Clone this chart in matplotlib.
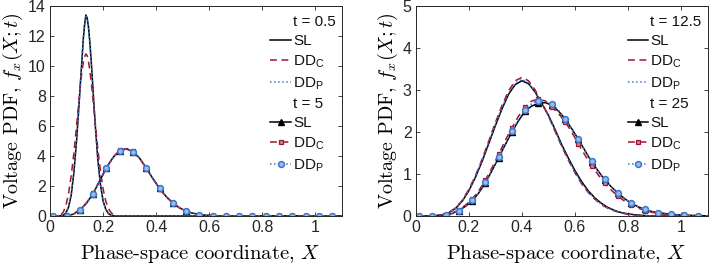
import matplotlib
matplotlib.use("Agg")
import matplotlib.pyplot as plt
from matplotlib.lines import Line2D

plt.rcParams['font.family'] = ['Liberation Sans', 'DejaVu Sans']
plt.rcParams['axes.unicode_minus'] = False

# ---------------- data ----------------
# t = 0.5 (left panel, narrow peak)
x_05 = [0.0, 0.03, 0.04, 0.05, 0.06, 0.07, 0.08, 0.09, 0.10, 0.11, 0.115, 0.12, 0.125,
        0.13, 0.135, 0.14, 0.145, 0.15, 0.155, 0.16, 0.17, 0.18, 0.19, 0.20, 0.21, 0.22,
        0.23, 0.24, 0.25, 0.26, 0.27, 1.1]
sl_05 = [0, 0, 0, 0.05, 0.2, 0.6, 1.4, 2.9, 5.0, 7.6, 9.0, 10.3, 11.7, 12.7, 13.4, 13.2,
         12.6, 11.6, 10.4, 9.0, 6.2, 3.8, 2.1, 1.0, 0.45, 0.17, 0.05, 0.01, 0, 0, 0, 0]
ddc_05 = [0, 0, 0.05, 0.25, 0.7, 1.5, 2.7, 4.2, 6.0, 7.9, 8.8, 9.6, 10.2, 10.6, 10.8, 10.7,
          10.3, 9.7, 9.0, 8.1, 6.3, 4.5, 3.0, 1.8, 1.0, 0.5, 0.22, 0.08, 0.02, 0, 0, 0]
ddp_05 = [0, 0, 0, 0.05, 0.2, 0.62, 1.45, 2.95, 5.05, 7.6, 9.0, 10.3, 11.7, 12.7, 13.3, 13.1,
          12.5, 11.5, 10.3, 8.9, 6.1, 3.75, 2.05, 0.98, 0.44, 0.16, 0.05, 0.01, 0, 0, 0, 0]

# shared grid for marker curves (t = 5 and t = 25)
x_m = [0.0125, 0.0375, 0.0625, 0.0875, 0.1125, 0.1375, 0.1625, 0.1875, 0.2125, 0.2375,
       0.2625, 0.2875, 0.3125, 0.3375, 0.3625, 0.3875, 0.4125, 0.4375, 0.4625, 0.4875,
       0.5125, 0.5375, 0.5625, 0.5875, 0.6125, 0.6375, 0.6625, 0.6875, 0.7125, 0.7375,
       0.7625, 0.7875, 0.8125, 0.8375, 0.8625, 0.8875, 0.9125, 0.9375, 0.9625, 0.9875,
       1.0125, 1.0375, 1.0625, 1.0875]
sl_5 = [0, 0, 0.02, 0.12, 0.4, 0.85, 1.5, 2.35, 3.2, 3.9, 4.35, 4.47, 4.3, 3.85, 3.2, 2.5,
        1.85, 1.3, 0.88, 0.55, 0.33, 0.19, 0.1, 0.05, 0.03, 0.01,
        0, 0, 0, 0, 0, 0, 0, 0, 0, 0, 0, 0, 0, 0, 0, 0, 0, 0]
ddc_5 = [0, 0, 0.02, 0.13, 0.42, 0.88, 1.52, 2.38, 3.22, 3.93, 4.38, 4.5, 4.32, 3.86, 3.2,
         2.48, 1.83, 1.28, 0.86, 0.54, 0.32, 0.18, 0.1, 0.05, 0.02, 0.01,
         0, 0, 0, 0, 0, 0, 0, 0, 0, 0, 0, 0, 0, 0, 0, 0, 0, 0]
ddp_5 = [0, 0, 0.02, 0.12, 0.4, 0.85, 1.5, 2.35, 3.2, 3.9, 4.35, 4.47, 4.3, 3.85, 3.2, 2.5,
         1.85, 1.3, 0.88, 0.55, 0.33, 0.19, 0.1, 0.05, 0.03, 0.01,
         0, 0, 0, 0, 0, 0, 0, 0, 0, 0, 0, 0, 0, 0, 0, 0, 0, 0]

# t = 12.5 (right panel)
x_125 = [0.0, 0.025, 0.05, 0.075, 0.1, 0.125, 0.15, 0.175, 0.2, 0.225, 0.25, 0.275, 0.3,
         0.325, 0.35, 0.375, 0.4, 0.425, 0.45, 0.475, 0.5, 0.525, 0.55, 0.575, 0.6, 0.625,
         0.65, 0.675, 0.7, 0.725, 0.75, 0.775, 0.8, 0.825, 0.85, 0.875, 0.9, 0.925, 0.95,
         0.975, 1.0, 1.025, 1.05, 1.075, 1.1]
sl_125 = [0, 0, 0, 0.01, 0.03, 0.08, 0.18, 0.35, 0.6, 0.92, 1.3, 1.72, 2.15, 2.55, 2.9, 3.13,
          3.22, 3.15, 2.95, 2.68, 2.4, 2.06, 1.7, 1.38, 1.08, 0.82, 0.6, 0.43, 0.3, 0.2, 0.13,
          0.08, 0.05, 0.03, 0.015, 0.007, 0.003, 0, 0, 0, 0, 0, 0, 0, 0]
ddc_125 = [0, 0, 0, 0.01, 0.03, 0.08, 0.19, 0.37, 0.63, 0.96, 1.35, 1.78, 2.22, 2.63, 2.98,
           3.22, 3.3, 3.22, 3.0, 2.7, 2.38, 2.02, 1.66, 1.33, 1.03, 0.77, 0.56, 0.4, 0.27,
           0.18, 0.12, 0.07, 0.04, 0.02, 0.01, 0.005, 0, 0, 0, 0, 0, 0, 0, 0, 0]
ddp_125 = [0, 0, 0, 0.01, 0.03, 0.08, 0.19, 0.36, 0.62, 0.94, 1.33, 1.75, 2.18, 2.58, 2.93,
           3.16, 3.25, 3.17, 2.96, 2.68, 2.38, 2.03, 1.67, 1.34, 1.04, 0.78, 0.57, 0.41, 0.28,
           0.19, 0.12, 0.07, 0.04, 0.02, 0.01, 0.005, 0, 0, 0, 0, 0, 0, 0, 0, 0]

# t = 25 (right panel, marker curves)
sl_25 = [0, 0, 0, 0.005, 0.02, 0.06, 0.13, 0.23, 0.36, 0.55, 0.79, 1.08, 1.39, 1.7, 2.0, 2.27,
         2.5, 2.62, 2.68, 2.7, 2.64, 2.5, 2.32, 2.08, 1.83, 1.56, 1.29, 1.07, 0.86, 0.69, 0.54,
         0.41, 0.3, 0.22, 0.16, 0.11, 0.08, 0.06, 0.04, 0.03, 0.02, 0.015, 0.01, 0.005]
ddc_25 = [0, 0, 0, 0.006, 0.025, 0.07, 0.15, 0.26, 0.4, 0.6, 0.85, 1.15, 1.47, 1.8, 2.1, 2.38,
          2.6, 2.74, 2.78, 2.74, 2.6, 2.44, 2.25, 2.0, 1.72, 1.45, 1.2, 0.98, 0.78, 0.61, 0.47,
          0.35, 0.26, 0.19, 0.13, 0.09, 0.06, 0.04, 0.03, 0.02, 0.015, 0.01, 0.005, 0.003]
ddp_25 = [0, 0, 0, 0.005, 0.02, 0.06, 0.13, 0.23, 0.37, 0.56, 0.8, 1.09, 1.4, 1.72, 2.02, 2.3,
          2.53, 2.68, 2.75, 2.74, 2.67, 2.52, 2.32, 2.08, 1.83, 1.56, 1.3, 1.07, 0.87, 0.69,
          0.54, 0.41, 0.3, 0.22, 0.16, 0.11, 0.08, 0.06, 0.04, 0.03, 0.02, 0.015, 0.01, 0.005]

x_ticks = [0, 0.2, 0.4, 0.6, 0.8, 1]
x_ticklabels = ['0', '0.2', '0.4', '0.6', '0.8', '1']
y_ticks_left = [0, 2, 4, 6, 8, 10, 12, 14]
y_ticks_right = [0, 1, 2, 3, 4, 5]
times_left = ['t = 0.5', 't = 5']
times_right = ['t = 12.5', 't = 25']
method_labels = ['SL', 'DD$_\\mathregular{C}$', 'DD$_\\mathregular{P}$']

# ---------------- style ----------------
C_SL = '#000000'
C_DDC = '#A2142F'
C_DDP = '#3A78D0'
LW = 1.1
DASH = (4.5, 3)

fig = plt.figure(figsize=(7.10, 2.68), dpi=100)
axL = fig.add_axes([50/710, 52/268, 292/710, 210/268])
axR = fig.add_axes([415.7/710, 52/268, 292/710, 210/268])


def draw(ax, xa, a_sl, a_ddc, a_ddp, xb, b_sl, b_ddc, b_ddp, tl):
    h1 = ax.plot(xa, a_sl, '-', color=C_SL, lw=LW)[0]
    h2 = ax.plot(xa, a_ddc, '--', color=C_DDC, lw=LW, dashes=DASH)[0]
    h3 = ax.plot(xa, a_ddp, ':', color=C_DDP, lw=LW)[0]
    me = (0, 2)
    h4 = ax.plot(xb, b_sl, '-', color=C_SL, lw=LW, marker='^', ms=4,
                 mfc=C_SL, mec=C_SL, markevery=me)[0]
    h5 = ax.plot(xb, b_ddc, '--', color=C_DDC, lw=LW, dashes=DASH, marker='s', ms=3.3,
                 mfc='#c98a95', mec=C_DDC, mew=0.9, markevery=me)[0]
    h6 = ax.plot(xb, b_ddp, ':', color=C_DDP, lw=LW, marker='o', ms=4.2,
                 mfc='#9bbbe8', mec=C_DDP, mew=1.1, markevery=me)[0]
    blank = Line2D([], [], color='none')
    handles = [blank, h1, h2, h3, blank, h4, h5, h6]
    labels = [tl[0]] + method_labels + [tl[1]] + method_labels
    leg = ax.legend(handles, labels, loc='upper right', frameon=False, fontsize=11,
                    handlelength=1.35, handletextpad=0.15, labelspacing=0.34,
                    borderpad=0, borderaxespad=0,
                    bbox_to_anchor=(1 - 6/292, 1 - 9/210))
    for t in leg.get_texts():
        t.set_color('#111111')
    ax.set_xlim(0, 1.1)
    ax.set_xticks(x_ticks)
    ax.set_xticklabels(x_ticklabels)
    ax.tick_params(direction='in', top=True, right=True, length=3, width=0.6,
                   labelsize=11.5, colors='#262626', labelcolor='#262626', pad=3)
    for s in ax.spines.values():
        s.set_linewidth(0.7)
        s.set_color('#262626')
    ax.set_xlabel('Phase-space coordinate, $X$', family='cmr10', math_fontfamily='cm',
                  fontsize=14.8)
    ax.xaxis.set_label_coords(0.515, -0.13)
    ax.set_ylabel('Voltage PDF, $f_x(X;t)$', family='cmr10', math_fontfamily='cm',
                  fontsize=14.5, labelpad=2)


draw(axL, x_05, sl_05, ddc_05, ddp_05, x_m, sl_5, ddc_5, ddp_5, times_left)
axL.set_ylim(0, 14)
axL.set_yticks(y_ticks_left)

draw(axR, x_125, sl_125, ddc_125, ddp_125, x_m, sl_25, ddc_25, ddp_25, times_right)
axR.set_ylim(0, 5)
axR.set_yticks(y_ticks_right)

fig.savefig('out.png', dpi=100)
